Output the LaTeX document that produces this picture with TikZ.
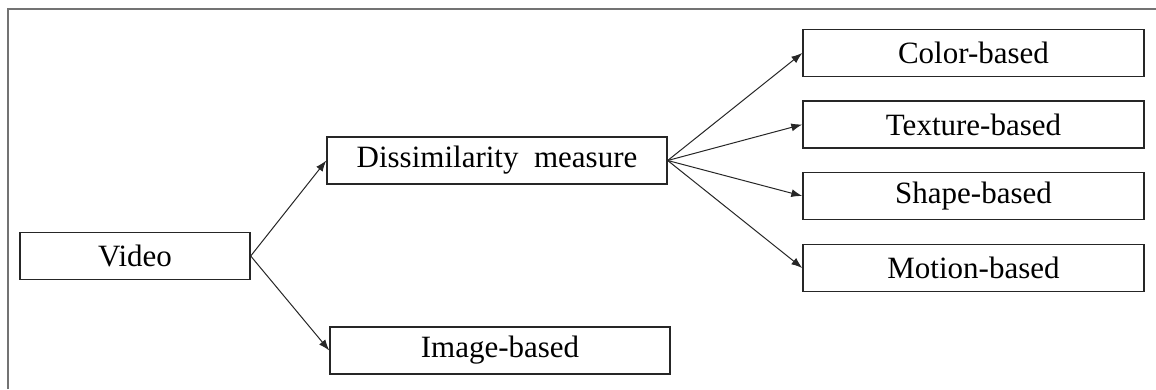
\documentclass[tikz,border=0pt]{standalone}
\usepackage{fontspec}
\setmainfont{Liberation Serif}
\usetikzlibrary{arrows.meta}
\begin{document}
\begin{tikzpicture}[x=1pt,y=-1pt,
  box/.style={draw=black!85, line width=1.4pt, fill=white, inner sep=0pt,
    minimum height=47pt, font=\fontsize{31}{31}\selectfont},
  link/.style={draw=black!85, line width=1pt, -{Latex[length=11pt,width=8pt]}},
  frameline/.style={draw=black!55, line width=1.5pt}]
  \useasboundingbox (0,0) rectangle (1156,389);
  % outer frame, open at right and bottom
  \coordinate (fb) at (8,389);
  \coordinate (fc) at (8,9);
  \coordinate (fr) at (1156,9);
  \draw[frameline] (fb) -- (fc) -- (fr);

  % boxes
  \node[box, minimum width=230pt] (video) at (135,256) {Video};
  \node[box, minimum width=340pt] (dis) at (497,160.5) {Dissimilarity\ \ measure};
  \node[box, minimum width=340pt] (img) at (500,350.5) {Image-based};
  \node[box, minimum width=341pt] (color) at (973.5,53) {Color-based};
  \node[box, minimum width=341pt] (texture) at (973.5,124.5) {Texture-based};
  \node[box, minimum width=341pt] (shape) at (973.5,196) {Shape-based};
  \node[box, minimum width=341pt] (motion) at (973.5,268) {Motion-based};

  % connectors
  \draw[link] (video.east) -- (dis.west);
  \draw[link] (video.east) -- (img.west);
  \draw[link] (dis.east) -- (color.west);
  \draw[link] (dis.east) -- (texture.west);
  \draw[link] (dis.east) -- (shape.west);
  \draw[link] (dis.east) -- (motion.west);
\end{tikzpicture}
\end{document}
